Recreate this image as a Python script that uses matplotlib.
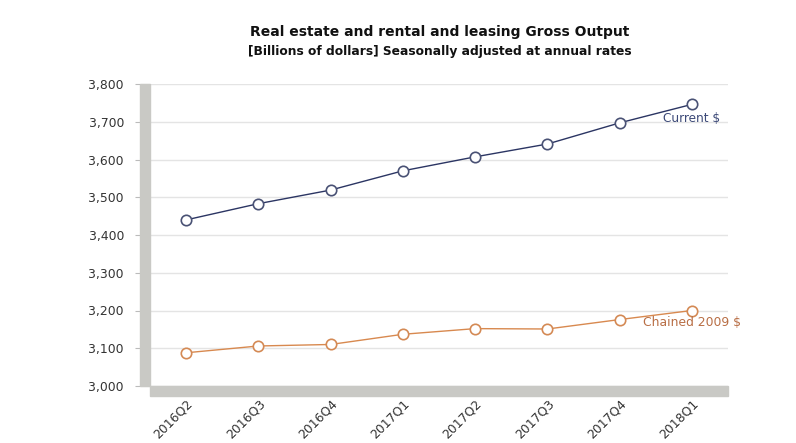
import matplotlib
matplotlib.use("Agg")
import matplotlib.pyplot as plt
from matplotlib.patches import Rectangle

categories = ["2016Q2", "2016Q3", "2016Q4", "2017Q1", "2017Q2", "2017Q3", "2017Q4", "2018Q1"]
current = [3440, 3483, 3519, 3570, 3607, 3641, 3697, 3746]
chained = [3088, 3106, 3110, 3137, 3152, 3151, 3176, 3200]
yticks = [3000, 3100, 3200, 3300, 3400, 3500, 3600, 3700, 3800]
title = "Real estate and rental and leasing Gross Output"
subtitle = "[Billions of dollars] Seasonally adjusted at annual rates"

plt.rcParams['font.family'] = ['DejaVu Sans']
W, H = 796, 443
fig = plt.figure(figsize=(W/100, H/100), dpi=100)
ax = fig.add_axes([150/W, 1-386/H, 578/W, 302/H])

x = list(range(len(categories)))
navy = "#2b3563"
orange = "#d8894f"
ax.plot(x, current, color=navy, lw=1.0, marker="o", ms=7.5, mfc="white", mec="#4a5275", mew=1.2, zorder=5, clip_on=False)
ax.plot(x, chained, color=orange, lw=1.0, marker="o", ms=7.5, mfc="white", mec="#d48a55", mew=1.2, zorder=5, clip_on=False)

ax.annotate("Current $", (x[-1], current[-1]), xytext=(0, -14), textcoords="offset pixels",
            ha="center", va="center", fontsize=8.7, color="#3d4a78", zorder=6)
ax.annotate("Chained 2009 $", (x[-1], chained[-1]), xytext=(0, -12), textcoords="offset pixels",
            ha="center", va="center", fontsize=8.9, color="#b86e45", zorder=6)

ax.set_xlim(-0.5, len(categories) - 0.5)
ax.set_ylim(3000, 3800)
ax.set_yticks(yticks)
ax.set_yticklabels([f"{v:,}" for v in yticks], fontsize=8.9, color="#333333")
ax.set_xticks(x)
ax.set_xticklabels(categories, rotation=45, ha="right", va="top", rotation_mode="anchor",
                   fontsize=8.9, color="#333333")
ax.tick_params(axis="y", length=15*0.72, color="#bbbbbb", pad=8)
ax.tick_params(axis="x", length=0, pad=8)
ax.grid(axis="y", color="#e4e4e4", lw=1)
ax.set_axisbelow(True)
for s in ax.spines.values():
    s.set_visible(False)

wall = "#c9c9c5"
ax.add_patch(Rectangle((-10/578, 0), 10/578, 1, transform=ax.transAxes, color=wall, clip_on=False, zorder=3))
ax.add_patch(Rectangle((0, -10/302), 1, 10/302, transform=ax.transAxes, color=wall, clip_on=False, zorder=3))

fig.text(440/W, 1-32/H, title, ha="center", va="center", fontsize=10, fontweight="bold", color="#111111")
fig.text(440/W, 1-52/H, subtitle, ha="center", va="center", fontsize=8.85, fontweight="bold", color="#111111")

fig.savefig("out.png", dpi=100, facecolor="white")
